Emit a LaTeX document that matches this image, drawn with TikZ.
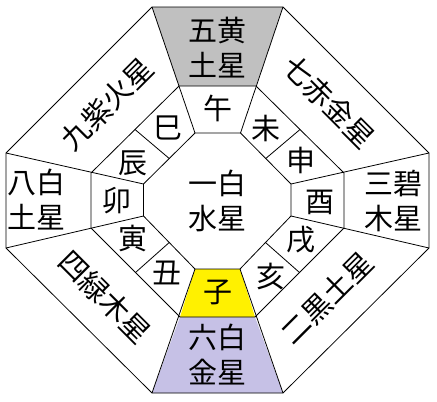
\documentclass[tikz,border=0pt]{standalone}
\usepackage{fontspec}
\setmainfont{Noto Sans CJK JP}
\usetikzlibrary{calc}
\definecolor{cellgray}{RGB}{192,192,192}
\definecolor{cellyellow}{RGB}{255,241,0}
\definecolor{cellpurple}{RGB}{198,193,230}
\begin{document}
\begin{tikzpicture}[x=1pt,y=-1pt,
  lbl/.style={inner sep=0pt, font=\fontsize{29}{35}\selectfont, align=center},
  ln/.style={line width=0.8pt, black, line join=miter}]
\fill[white] (0,0) rectangle (437,402);
\useasboundingbox (0,0) rectangle (437,402);
% outer octagon
\coordinate (O1) at (152,7);
\coordinate (O2) at (283,7);
\coordinate (O3) at (429,153);
\coordinate (O4) at (429,248);
\coordinate (O5) at (283,393);
\coordinate (O6) at (152,393);
\coordinate (O7) at (6,248);
\coordinate (O8) at (6,153);
% middle octagon
\coordinate (M1) at (179,86);
\coordinate (M2) at (256,86);
\coordinate (M3) at (344,173);
\coordinate (M4) at (344,228);
\coordinate (M5) at (255,317);
\coordinate (M6) at (180,317);
\coordinate (M7) at (91,228);
\coordinate (M8) at (91,173);
% inner octagon
\coordinate (I1) at (195,133);
\coordinate (I2) at (240.5,133);
\coordinate (I3) at (291,184);
\coordinate (I4) at (291,216);
\coordinate (I5) at (240,269);
\coordinate (I6) at (195,269);
\coordinate (I7) at (143.5,216);
\coordinate (I8) at (143.5,184);
% fills
\fill[cellgray] (O1)--(O2)--(M2)--(M1)--cycle;
\fill[cellpurple] (M6)--(M5)--(O5)--(O6)--cycle;
\fill[cellyellow] (I6)--(I5)--(M5)--(M6)--cycle;
% octagons
\draw[ln] (O1)--(O2)--(O3)--(O4)--(O5)--(O6)--(O7)--(O8)--cycle;
\draw[ln] (M1)--(M2)--(M3)--(M4)--(M5)--(M6)--(M7)--(M8)--cycle;
\draw[ln] (I1)--(I2)--(I3)--(I4)--(I5)--(I6)--(I7)--(I8)--cycle;
% radial lines
\foreach \k in {1,...,8} { \draw[ln] (O\k)--(I\k); }
% zodiac dividers
\draw[ln] ($(I1)!0.5!(I8)$)--($(M1)!0.5!(M8)$);
\draw[ln] ($(I2)!0.5!(I3)$)--($(M2)!0.5!(M3)$);
\draw[ln] ($(I4)!0.5!(I5)$)--($(M4)!0.5!(M5)$);
\draw[ln] ($(I6)!0.5!(I7)$)--($(M6)!0.5!(M7)$);
% nine stars
\node[lbl] (c)  at (217.5,200.5) {一白\\水星};
\node[lbl] (n)  at (217.5,47.5) {五黄\\土星};
\node[lbl] (s)  at (217,355) {六白\\金星};
\node[lbl] (w)  at (36.5,200) {八白\\土星};
\node[lbl] (e)  at (393,200.5) {三碧\\木星};
\node[lbl,rotate=45]  (nw) at (107,104) {九紫火星};
\node[lbl,rotate=-45] (ne) at (329,102) {七赤金星};
\node[lbl,rotate=-45] (sw) at (105,297) {四緑木星};
\node[lbl,rotate=45]  (se) at (327,298) {二黒土星};
% zodiac
\node[lbl] (z1)  at (217.5,108) {午};
\node[lbl] (z2)  at (168,128) {巳};
\node[lbl] (z3)  at (133,163) {辰};
\node[lbl] (z4)  at (116.5,201) {卯};
\node[lbl] (z5)  at (133,239) {寅};
\node[lbl] (z6)  at (167,272.5) {丑};
\node[lbl] (z7)  at (218,292.5) {子};
\node[lbl] (z8)  at (271,276) {亥};
\node[lbl] (z9)  at (301,240) {戌};
\node[lbl] (z10) at (320,202) {酉};
\node[lbl] (z11) at (301,160) {申};
\node[lbl] (z12) at (266,128) {未};
\end{tikzpicture}
\end{document}
